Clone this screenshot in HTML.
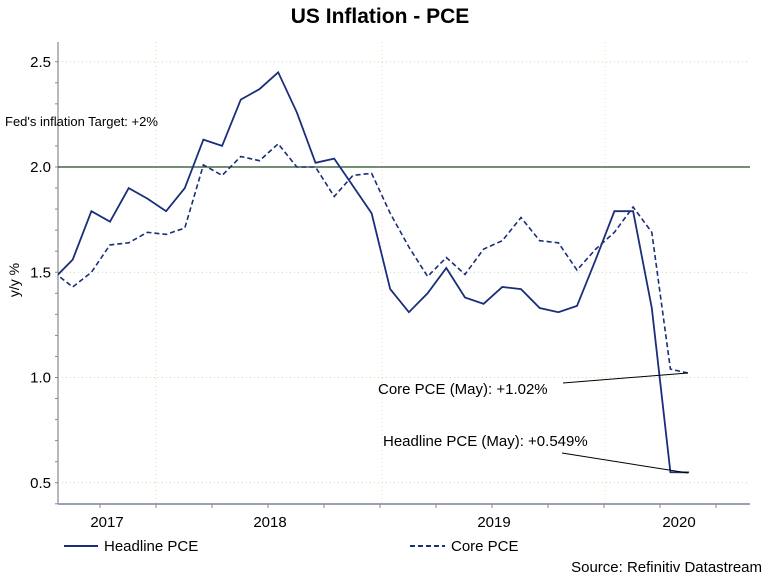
<!DOCTYPE html>
<html><head><meta charset="utf-8"><style>
body{margin:0;background:#fff;}
svg{display:block;font-family:"Liberation Sans",Arial,sans-serif;}
</style></head><body>
<svg id="chart" width="768" height="587" viewBox="0 0 768 587">
<text x="380" y="23" text-anchor="middle" font-size="21" font-weight="bold">US Inflation - PCE</text>
<g id="grid"></g>
<g id="axes"></g>
<line x1="58" y1="167" x2="750" y2="167" stroke="#1e4a22" stroke-width="1.2"/>
<text x="5" y="126" font-size="13">Fed's inflation Target: +2%</text>
<g id="series"></g>
<line x1="563" y1="383" x2="688" y2="373" stroke="#000" stroke-width="1"/>
<text x="378" y="394" font-size="15">Core PCE (May): +1.02%</text>
<line x1="562" y1="453" x2="688" y2="473" stroke="#000" stroke-width="1"/>
<text x="383" y="446" font-size="15">Headline PCE (May): +0.549%</text>
<text transform="translate(19,280) rotate(-90)" text-anchor="middle" font-size="14">y/y %</text>
<g>
<line x1="64" y1="546" x2="98" y2="546" stroke="#1a2e7a" stroke-width="2"/>
<text x="104" y="551" font-size="15">Headline PCE</text></g>
<g>
<line x1="410" y1="546" x2="445" y2="546" stroke="#1a2e7a" stroke-width="2" stroke-dasharray="5,3"/>
<text x="451" y="551" font-size="15">Core PCE</text></g>
<text x="762" y="572" text-anchor="end" font-size="15">Source: Refinitiv Datastream</text>
</svg>
<script>
const months = ["2017-07","2017-08","2017-09","2017-10","2017-11","2017-12","2018-01","2018-02","2018-03","2018-04","2018-05","2018-06","2018-07","2018-08","2018-09","2018-10","2018-11","2018-12","2019-01","2019-02","2019-03","2019-04","2019-05","2019-06","2019-07","2019-08","2019-09","2019-10","2019-11","2019-12","2020-01","2020-02","2020-03","2020-04","2020-05"];
const headline = [1.47,1.56,1.79,1.74,1.90,1.85,1.79,1.90,2.13,2.10,2.32,2.37,2.45,2.26,2.02,2.04,1.91,1.78,1.42,1.31,1.40,1.52,1.38,1.35,1.43,1.42,1.33,1.31,1.34,1.56,1.79,1.79,1.33,0.55,0.549];
const core = [1.50,1.43,1.50,1.63,1.64,1.69,1.68,1.71,2.01,1.96,2.05,2.03,2.11,2.00,2.00,1.86,1.96,1.97,1.78,1.62,1.48,1.57,1.49,1.61,1.65,1.76,1.65,1.64,1.51,1.61,1.69,1.81,1.69,1.04,1.02];
const yTicks = [0.5,1.0,1.5,2.0,2.5];
const yearLabels = ["2017","2018","2019","2020"];
const NS="http://www.w3.org/2000/svg";
const L=58,R=750,T=42,B=504;
function xs(i){return 54+i*18.68;}
function ys(v){return 167-(v-2)*210.5;}
function mk(tag,attrs,parent){const e=document.createElementNS(NS,tag);for(const k in attrs)e.setAttribute(k,attrs[k]);parent.appendChild(e);return e;}
const grid=document.getElementById('grid'),axes=document.getElementById('axes'),ser=document.getElementById('series');
yTicks.forEach(v=>{if(v===2.0)return;const l=mk('line',{x1:L,x2:R,y1:ys(v),y2:ys(v),stroke:'#c9d9a8','stroke-dasharray':'1,3'},grid);

});
const yearBounds=[156,382,605];
yearBounds.forEach(x=>{const l=mk('line',{x1:x,x2:x,y1:T,y2:B,stroke:'#ecd9b0','stroke-dasharray':'1,3'},grid);

});
const ya=mk('line',{x1:L,x2:L,y1:T,y2:B,stroke:'#888','stroke-width':1.2},axes);


const xa=mk('line',{x1:L,x2:R,y1:B,y2:B,stroke:'#9aa0b8','stroke-width':2},axes);


for(let v=0.4;v<=2.62;v+=0.1){const y=ys(v);if(y<T||y>B)continue;mk('line',{x1:L-3,x2:L,y1:y,y2:y,stroke:'#888'},axes);}
yTicks.forEach(v=>{const t=mk('text',{x:L-7,y:ys(v)+5,'text-anchor':'end','font-size':15},axes);t.textContent=v.toFixed(1);

});
for(let x=156-2*56;x<R;x+=56){if(x<L)continue;mk('line',{x1:x,x2:x,y1:B,y2:B+4,stroke:'#888'},axes);}
const yc=[107,270,494,679];
yearLabels.forEach((s,i)=>{const t=mk('text',{x:yc[i],y:527,'text-anchor':'middle','font-size':15},axes);t.textContent=s;

});
const defs=mk('defs',{},ser);const cp=mk('clipPath',{id:'pc'},defs);mk('rect',{x:L,y:T,width:R-L,height:B-T},cp);
function path(arr){return arr.map((v,i)=>(i?'L':'M')+xs(i).toFixed(1)+' '+ys(v).toFixed(1)).join(' ');}
const pc=mk('path',{d:path(core),fill:'none',stroke:'#1a2e7a','stroke-width':1.6,'stroke-dasharray':'5,3','clip-path':'url(#pc)'},ser);


const ph=mk('path',{d:path(headline),fill:'none',stroke:'#1a2e7a','stroke-width':1.8,'clip-path':'url(#pc)'},ser);


</script>
</body></html>
